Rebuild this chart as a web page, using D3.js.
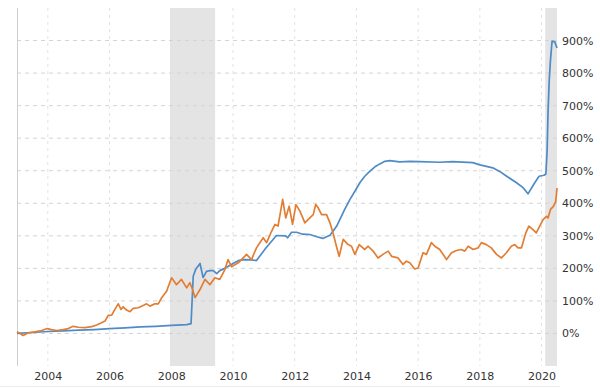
<!DOCTYPE html>
<html>
<head>
<meta charset="utf-8">
<script src="https://cdn.jsdelivr.net/npm/d3@7"></script>
<style>
  body { margin: 0; background: #fff; }
  text { font-family: "DejaVu Sans", Verdana, sans-serif; }
</style>
</head>
<body>
<svg id="chart"></svg>
<script>
// dates as decimal years, values as % change
const blueYears = [2003.0, 2003.5, 2004.0, 2004.5, 2005.0, 2005.5, 2006.0, 2006.5, 2007.0, 2007.5, 2008.0, 2008.5, 2008.64,
  2008.71, 2008.79, 2008.93, 2009.03, 2009.14, 2009.25, 2009.36, 2009.47, 2009.57, 2009.73, 2009.88, 2010.0, 2010.2, 2010.38,
  2010.6, 2010.76, 2011.06, 2011.41, 2011.71, 2011.77, 2011.9, 2012.06, 2012.26, 2012.49, 2012.72, 2012.91, 2013.14, 2013.24,
  2013.36, 2013.46, 2013.62, 2013.79, 2013.95, 2014.11, 2014.27, 2014.43, 2014.6, 2014.76, 2014.92, 2015.08, 2015.4, 2015.73,
  2016.05, 2016.7, 2017.12, 2017.77, 2018.0, 2018.42, 2018.64, 2018.87, 2019.19, 2019.39, 2019.56, 2019.78, 2019.92, 2020.08,
  2020.14, 2020.18, 2020.21, 2020.25, 2020.29, 2020.34, 2020.43, 2020.5];
const blueValues = [0, 3, 6, 8, 10, 12, 15, 17, 20, 22, 25, 27, 30,
  176, 197, 215, 172, 191, 193, 193, 184, 193, 200, 208, 215, 225, 227,
  226, 224, 262, 301, 300, 294, 311, 311, 305, 304, 297, 292, 302, 314,
  330, 350, 381, 412, 437, 463, 483, 498, 512, 521, 529, 531, 527, 529,
  528, 526, 528, 525, 518, 509, 498, 483, 463, 449, 429, 463, 483, 486,
  490, 560, 680, 780, 841, 898, 896, 877];

const orangeYears = [2003.0, 2003.2, 2003.37, 2003.58, 2003.8, 2003.98, 2004.12, 2004.29, 2004.5, 2004.66, 2004.82, 2004.99,
  2005.2, 2005.42, 2005.58, 2005.74, 2005.85, 2005.96, 2006.07, 2006.17, 2006.28, 2006.37, 2006.44, 2006.55, 2006.66, 2006.77,
  2006.93, 2007.09, 2007.2, 2007.31, 2007.47, 2007.58, 2007.69, 2007.85, 2008.01, 2008.17, 2008.33, 2008.5, 2008.6, 2008.69,
  2008.77, 2008.93, 2009.09, 2009.25, 2009.41, 2009.57, 2009.74, 2009.84, 2009.95, 2010.17, 2010.44, 2010.6, 2010.76, 2010.98,
  2011.09, 2011.25, 2011.36, 2011.46, 2011.61, 2011.71, 2011.82, 2011.93, 2012.04, 2012.17, 2012.33, 2012.49, 2012.6, 2012.68,
  2012.76, 2012.87, 2013.03, 2013.14, 2013.24, 2013.35, 2013.44, 2013.57, 2013.73, 2013.84, 2013.95, 2014.09, 2014.27, 2014.38,
  2014.54, 2014.7, 2014.86, 2015.03, 2015.14, 2015.35, 2015.51, 2015.62, 2015.73, 2015.89, 2016.0, 2016.16, 2016.27, 2016.43,
  2016.54, 2016.7, 2016.92, 2017.08, 2017.24, 2017.4, 2017.51, 2017.62, 2017.78, 2017.94, 2018.05, 2018.21, 2018.37, 2018.54,
  2018.7, 2018.86, 2019.02, 2019.13, 2019.24, 2019.35, 2019.49, 2019.59, 2019.72, 2019.83, 2019.94, 2020.05, 2020.16, 2020.21,
  2020.29, 2020.39, 2020.46, 2020.5];
const orangeValues = [5, -6, 2, 5, 9, 15, 12, 9, 12, 15, 22, 19,
  18, 21, 26, 33, 38, 56, 56, 74, 91, 74, 82, 72, 67, 77,
  79, 86, 91, 84, 91, 91, 110, 130, 171, 150, 166, 140, 156, 135,
  110, 135, 166, 150, 171, 166, 197, 227, 205, 217, 243, 227, 263, 294,
  279, 314, 335, 330, 412, 355, 391, 335, 396, 376, 340, 355, 365, 396,
  386, 365, 365, 340, 309, 268, 237, 289, 273, 268, 243, 273, 258, 268,
  253, 232, 243, 253, 237, 232, 212, 222, 217, 198, 201, 248, 243, 279,
  268, 258, 227, 248, 255, 258, 253, 268, 258, 263, 279, 273, 263, 243,
  232, 248, 268, 273, 263, 263, 309, 330, 319, 309, 330, 350, 360, 355,
  381, 391, 406, 447];

const recessions = [[2007.96, 2009.42], [2020.12, 2020.5]];
const xTickYears = [2004, 2006, 2008, 2010, 2012, 2014, 2016, 2018, 2020];
const yTickValues = [0, 100, 200, 300, 400, 500, 600, 700, 800, 900];

const width = 600, height = 388;
const margin = { top: 8, right: 43, bottom: 22, left: 17 };

const toDate = yr => {
  const y = Math.floor(yr);
  const start = new Date(y, 0, 1), end = new Date(y + 1, 0, 1);
  return new Date(start.getTime() + (yr - y) * (end - start));
};

const svg = d3.select("#chart").attr("width", width).attr("height", height);

const x = d3.scaleTime()
  .domain([toDate(2003.0), toDate(2020.5)])
  .range([margin.left, width - margin.right]);
const y = d3.scaleLinear()
  .domain([-100, 1000])
  .range([height - margin.bottom, margin.top]);

// recession bands
svg.append("g").selectAll("rect")
  .data(recessions)
  .join("rect")
  .attr("x", d => x(toDate(d[0])))
  .attr("width", d => x(toDate(d[1])) - x(toDate(d[0])))
  .attr("y", margin.top)
  .attr("height", height - margin.bottom - margin.top)
  .attr("fill", "#e4e4e4");

// grid
svg.append("g").selectAll("line")
  .data(yTickValues)
  .join("line")
  .attr("x1", margin.left).attr("x2", width - margin.right)
  .attr("y1", d => y(d)).attr("y2", d => y(d))
  .attr("stroke", "#d4d4d4")
  .attr("stroke-dasharray", "4,4");

svg.append("g").selectAll("line")
  .data(xTickYears)
  .join("line")
  .attr("x1", d => x(toDate(d))).attr("x2", d => x(toDate(d)))
  .attr("y1", margin.top).attr("y2", height - margin.bottom)
  .attr("stroke", "#e2e2e2")
  .attr("stroke-dasharray", "3,4");

// left edge line and bottom line
svg.append("line")
  .attr("x1", margin.left + 0.5).attr("x2", margin.left + 0.5)
  .attr("y1", margin.top).attr("y2", height - margin.bottom)
  .attr("stroke", "#cfcfcf");
svg.append("line")
  .attr("x1", 0).attr("x2", 560)
  .attr("y1", 386.5).attr("y2", 386.5)
  .attr("stroke", "#ececec");

// axes (labels only)
const xAxis = d3.axisBottom(x)
  .tickValues(xTickYears.map(toDate))
  .tickFormat(d3.timeFormat("%Y"))
  .tickSize(0).tickPadding(6);
svg.append("g")
  .attr("transform", `translate(0,${height - margin.bottom})`)
  .call(xAxis)
  .call(g => g.select(".domain").remove())
  .call(g => g.selectAll("text").attr("font-size", 11).attr("fill", "#333").attr("font-family", "DejaVu Sans"));

const yAxis = d3.axisRight(y)
  .tickValues(yTickValues)
  .tickFormat(d => d + "%")
  .tickSize(0).tickPadding(5);
svg.append("g")
  .attr("transform", `translate(${width - margin.right},0)`)
  .call(yAxis)
  .call(g => g.select(".domain").remove())
  .call(g => g.selectAll("text").attr("font-size", 11).attr("fill", "#333").attr("font-family", "DejaVu Sans"));

// lines
const line = d3.line()
  .x(d => x(toDate(d[0])))
  .y(d => y(d[1]));

svg.append("path")
  .datum(d3.zip(blueYears, blueValues))
  .attr("fill", "none")
  .attr("stroke", "#4f8bc6")
  .attr("stroke-width", 1.7)
  .attr("stroke-linejoin", "round")
  .attr("d", line);

svg.append("path")
  .datum(d3.zip(orangeYears, orangeValues))
  .attr("fill", "none")
  .attr("stroke", "#e27e34")
  .attr("stroke-width", 1.7)
  .attr("stroke-linejoin", "round")
  .attr("d", line);
</script>
</body>
</html>
